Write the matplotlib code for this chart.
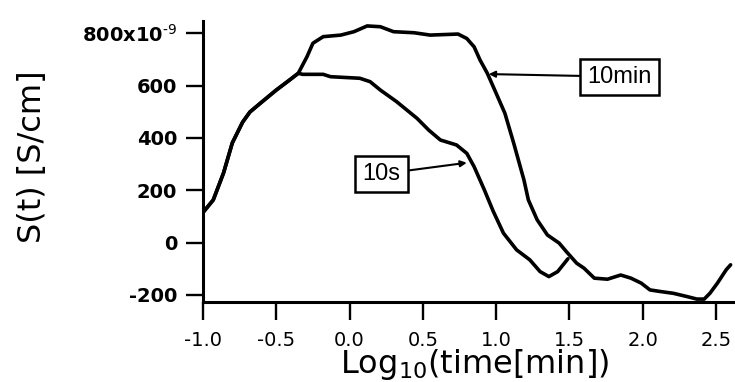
import matplotlib
matplotlib.use("Agg")
import matplotlib.pyplot as plt

plt.rcParams["font.family"] = ["DejaVu Sans"]
plt.rcParams["axes.unicode_minus"] = False
plt.rcParams["mathtext.default"] = "regular"

# common rise of both curves, log10(t/min) vs S(t) in 1e-9 S/cm
rise_x = [-1.0, -0.93, -0.86, -0.80, -0.73, -0.68, -0.61, -0.50, -0.41, -0.35]
rise_y = [115, 163, 266, 381, 460, 499, 532, 583, 621, 647]

# 10 s curve after it leaves the common rise
s10_x = [-0.32, -0.18, -0.13, 0.07, 0.14, 0.21, 0.32, 0.46, 0.54, 0.62, 0.73,
         0.80, 0.85, 0.92, 0.98, 1.05, 1.14, 1.23, 1.30, 1.36, 1.42, 1.49]
s10_y = [643, 643, 634, 628, 615, 583, 539, 475, 430, 392, 373,
         341, 290, 201, 120, 36, -28, -66, -111, -130, -111, -62]

# 10 min curve after it leaves the common rise
m10_x = [-0.29, -0.25, -0.18, -0.06, 0.03, 0.12, 0.21, 0.30, 0.44, 0.55, 0.74,
         0.80, 0.85, 0.89, 0.94, 1.00, 1.06, 1.12, 1.19, 1.22, 1.28, 1.35,
         1.43, 1.48, 1.55, 1.60, 1.67, 1.76, 1.85, 1.92, 1.99, 2.05, 2.12,
         2.21, 2.30, 2.37, 2.42, 2.46, 2.51, 2.57, 2.60]
m10_y = [711, 762, 787, 793, 806, 828, 825, 806, 802, 793, 797,
         780, 748, 698, 647, 571, 494, 380, 239, 163, 87, 29,
         -2, -35, -79, -98, -136, -140, -124, -136, -155, -181, -187,
         -194, -206, -216, -216, -193, -155, -104, -85]

x_ticks = [-1.0, -0.5, 0.0, 0.5, 1.0, 1.5, 2.0, 2.5]
x_labels = ["-1.0", "-0.5", "0.0", "0.5", "1.0", "1.5", "2.0", "2.5"]
y_ticks = [-200, 0, 200, 400, 600, 800]
y_labels = ["-200", "0", "200", "400", "600", r"800x10$^{\text{-9}}$"]


def draw_chart():
    fig = plt.figure(figsize=(7.35, 3.82), dpi=100)
    ax = fig.add_axes([0.2762, 0.2102, 0.7238, 0.7356])

    ax.plot(rise_x + s10_x, rise_y + s10_y, color="black", lw=2.6,
            solid_capstyle="round", solid_joinstyle="round")
    ax.plot(rise_x + m10_x, rise_y + m10_y, color="black", lw=2.6,
            solid_capstyle="round", solid_joinstyle="round")

    ax.set_xlim(-1.0, 2.63)
    ax.set_ylim(-226, 848)
    for side in ("top", "right"):
        ax.spines[side].set_visible(False)
    for side in ("left", "bottom"):
        ax.spines[side].set_linewidth(2.2)

    ax.set_xticks(x_ticks)
    ax.set_xticklabels(x_labels)
    ax.set_yticks(y_ticks)
    ax.set_yticklabels(y_labels, fontweight="bold")
    ax.tick_params(axis="x", direction="out", length=13, width=1.7,
                   pad=8, labelsize=14)
    ax.tick_params(axis="y", direction="out", length=12, width=1.7,
                   pad=6.5, labelsize=14)

    box = dict(boxstyle="square,pad=0.3", fc="white", ec="black", lw=1.8)
    arrow = dict(arrowstyle="-|>", lw=1.5, color="black",
                 mutation_scale=9, shrinkA=0, shrinkB=0)
    ax.annotate("10min", xy=(0.95, 644), xytext=(1.842, 634),
                ha="center", va="center", fontsize=17,
                family="Liberation Sans", bbox=box, arrowprops=arrow)
    ax.annotate("10s", xy=(0.80, 305), xytext=(0.218, 262),
                ha="center", va="center", fontsize=17,
                family="Liberation Sans", bbox=box, arrowprops=arrow)

    fig.text(0.044, 0.589, "S(t) [S/cm]", rotation=90, ha="center",
             va="center", fontsize=23)
    fig.text(0.6456, 0.024, "Log$_{10}$(time[min])", ha="center",
             va="baseline", fontsize=23)

    fig.savefig("out.png", dpi=100)


def main():
    draw_chart()


if __name__ == '__main__':
    main()
